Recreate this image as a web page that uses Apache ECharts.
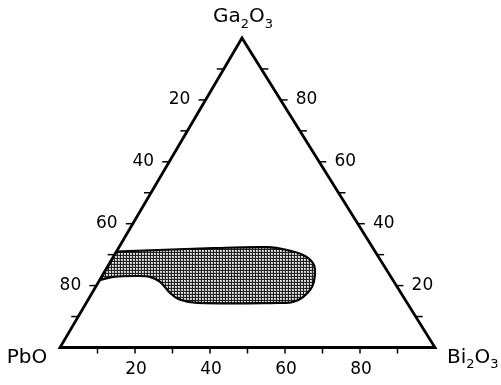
<!DOCTYPE html>
<html><head><meta charset="utf-8">
<script src="https://cdn.jsdelivr.net/npm/echarts@6.0.0/dist/echarts.min.js"></script>
<style>html,body{margin:0;padding:0;background:#fff}#c{width:501px;height:385px}</style>
</head><body><div id="c"></div>
<script>
// Ternary system PbO (bottom-left) – Bi2O3 (bottom-right) – Ga2O3 (top), mol %
const componentNames = ['PbO', 'Bi2O3', 'Ga2O3'];
const tickValues = [10, 20, 30, 40, 50, 60, 70, 80, 90];
const labeledTicks = [20, 40, 60, 80];
const tickLabels = ['20', '40', '60', '80'];

// Boundary of the hatched (glass-forming) region; starts and ends on the PbO–Ga2O3 edge
const regionPbO   = [78.2, 74.1, 67.6, 64.3, 62.4, 61.6, 60.0, 56.0, 33.9, 30.3, 26.8, 22.7, 19.6, 18.5, 19.8, 23.2, 28.1, 42.6, 69.0];
const regionBi2O3 = [0.0, 3.1, 9.3, 12.9, 16.4, 20.8, 24.6, 29.6, 51.7, 55.0, 56.9, 57.7, 56.3, 54.2, 50.3, 45.3, 39.5, 25.3, 0.0];
const regionGa2O3 = [21.8, 22.8, 23.1, 22.8, 21.2, 17.6, 15.4, 14.4, 14.4, 14.7, 16.3, 19.6, 24.1, 27.3, 29.9, 31.5, 32.4, 32.1, 31.0];

// layout: horizontal position of the apex as a fraction of the base
const APEX_SHIFT = 0.4853;
function tern(pbo, bi, ga) {
  const s = pbo + bi + ga;
  return [(bi + ga * APEX_SHIFT) / s, ga / s];
}
function richFormula(f) {
  return f.replace(/(\d+)|(\D+)/g, (m, d, t) => d ? '{s|' + d + '}' : '{n|' + t + '}');
}
const FONT = 'DejaVu Sans, sans-serif';
const formulaRich = {
  n: { fontSize: 20, fontFamily: FONT, fill: '#000', verticalAlign: 'bottom', padding: [0, 0, 4, 0] },
  s: { fontSize: 13, fontFamily: FONT, fill: '#000', verticalAlign: 'bottom' }
};

// hatch pattern
const pc = document.createElement('canvas');
pc.width = 3; pc.height = 3;
const g = pc.getContext('2d');
g.fillStyle = '#c4c4c4'; g.fillRect(0, 0, 3, 3);
g.fillStyle = '#f4f4f4'; g.fillRect(1, 1, 1, 1);
g.fillStyle = '#222'; g.fillRect(0, 0, 3, 1); g.fillRect(0, 0, 1, 3);
const pattern = { image: pc, repeat: 'repeat' };

const chart = echarts.init(document.getElementById('c'), null, { renderer: 'canvas' });
chart.setOption({
  animation: false,
  backgroundColor: '#fff',
  grid: { left: 60, right: 66, top: 38, bottom: 37.5 },
  xAxis: { type: 'value', min: 0, max: 1, show: false },
  yAxis: { type: 'value', min: 0, max: 1, show: false },
  series: [
    {
      type: 'custom', clip: false, data: [0], z: 1,
      renderItem: function (params, api) {
        const pts = regionPbO.map((p, i) => api.coord(tern(p, regionBi2O3[i], regionGa2O3[i])));
        const poly = [pts[0]].concat(pts, [pts[pts.length - 1]]);
        return { type: 'polygon', shape: { points: poly, smooth: 0.35 },
          style: { fill: pattern, stroke: '#000', lineWidth: 2.2 } };
      }
    },
    {
      type: 'custom', clip: false, data: [0], z: 2,
      renderItem: function (params, api) {
        const A = api.coord(tern(0, 0, 100)), L = api.coord(tern(100, 0, 0)), R = api.coord(tern(0, 100, 0));
        const children = [{ type: 'polygon', shape: { points: [L, R, A] },
          style: { fill: 'none', stroke: '#000', lineWidth: 2.8, lineJoin: 'miter' } }];
        tickValues.forEach(t => {
          const pl = api.coord(tern(t, 0, 100 - t));   // left edge: PbO %
          const pr = api.coord(tern(0, 100 - t, t));   // right edge: Ga2O3 %
          const pb = api.coord(tern(100 - t, t, 0));   // base: Bi2O3 %
          children.push({ type: 'line', shape: { x1: pl[0], y1: pl[1], x2: pl[0] - 7, y2: pl[1] }, style: { stroke: '#000', lineWidth: 1.5 } });
          children.push({ type: 'line', shape: { x1: pr[0], y1: pr[1], x2: pr[0] + 7, y2: pr[1] }, style: { stroke: '#000', lineWidth: 1.5 } });
          children.push({ type: 'line', shape: { x1: pb[0], y1: pb[1], x2: pb[0], y2: pb[1] + 6 }, style: { stroke: '#000', lineWidth: 1.5 } });
        });
        labeledTicks.forEach((t, i) => {
          const pl = api.coord(tern(t, 0, 100 - t));
          const pr = api.coord(tern(0, 100 - t, t));
          const pb = api.coord(tern(100 - t, t, 0));
          const st = { text: tickLabels[i], fill: '#000', fontSize: 17, fontFamily: FONT, align: 'center', verticalAlign: 'middle' };
          children.push({ type: 'text', x: pl[0] - 26, y: pl[1], style: Object.assign({}, st) });
          children.push({ type: 'text', x: pr[0] + 26, y: pr[1], style: Object.assign({}, st) });
          children.push({ type: 'text', x: pb[0] + 1, y: pb[1] + 22, style: Object.assign({}, st) });
        });
        children.push({ type: 'text', x: L[0] - 33, y: L[1] + 12,
          style: { text: richFormula(componentNames[0]), rich: formulaRich, align: 'center', verticalAlign: 'middle' } });
        children.push({ type: 'text', x: R[0] + 12, y: R[1] + 12,
          style: { text: richFormula(componentNames[1]), rich: formulaRich, align: 'left', verticalAlign: 'middle' } });
        children.push({ type: 'text', x: A[0] + 1, y: A[1] - 19,
          style: { text: richFormula(componentNames[2]), rich: formulaRich, align: 'center', verticalAlign: 'middle' } });
        return { type: 'group', children: children };
      }
    }
  ]
});
</script></body></html>
